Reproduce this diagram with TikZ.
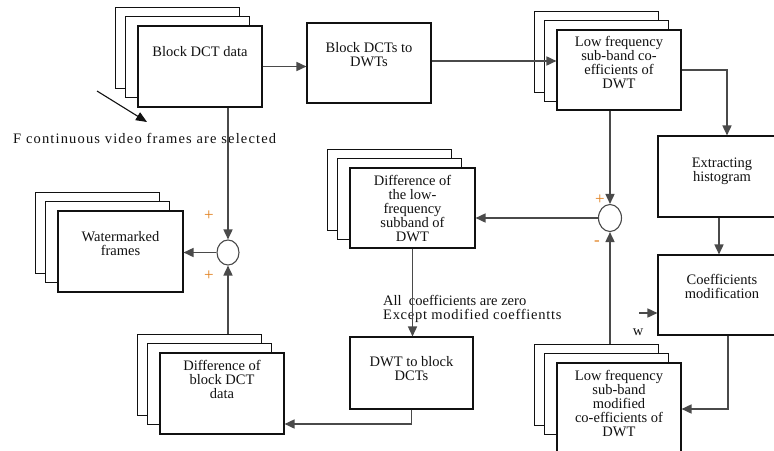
\documentclass[tikz,border=0pt]{standalone}
\usepackage{fontspec}
\setmainfont{Liberation Serif}
\usetikzlibrary{arrows.meta,positioning,shapes.geometric,backgrounds}
\definecolor{ink}{HTML}{111111}
\definecolor{wire}{HTML}{4A4A4A}
\definecolor{sign}{HTML}{E0801E}

\begin{document}
\begin{tikzpicture}[
    x=1pt, y=-1pt,
    >={Triangle[length=10pt,width=9pt]},
    font=\fontsize{14.5}{14}\selectfont, color=ink,
    box/.style={draw=ink, fill=white, line width=1.1pt, minimum width=124pt, minimum height=80pt, inner sep=0pt},
    sheet/.style={draw=ink, fill=white, line width=1.1pt},
    txt/.style={align=center, inner sep=0pt, text=ink},
    link/.style={draw=wire, line width=1.6pt},
    junction/.style={ellipse, draw=wire, line width=1.1pt, fill=white, inner sep=0pt},
    sgn/.style={text=sign, inner sep=0pt, font=\fontsize{17}{17}\selectfont}]
  % 774 x 450 canvas in pixel units, y pointing down
  \path[use as bounding box] (0,0) rectangle (774,450);
  \clip (0,0) rectangle (774,450);

  % ================= top row =================
  \node[box, minimum height=81pt] (bdct) at (200,66.5) {};
  \node[txt, below=21pt of bdct.north] (bdct-t) {Block DCT data};
  \node[box] (b2w) at (369,63) {};
  \node[txt, below=20pt of b2w.north] (b2w-t) {Block DCTs to\\DWTs};
  \node[box] (lft) at (619,70) {};
  \node[txt, below=7pt of lft.north] (lft-t) {Low frequency\\sub-band co-\\efficients of\\DWT};

  % ================= right column =================
  \node[box, minimum width=128pt, minimum height=81pt] (ext) at (722,176.5) {};
  \node[txt, below=22pt of ext.north] (ext-t) {Extracting\\histogram};
  \node[box, minimum width=128pt] (coef) at (722,295) {};
  \node[txt, below=20pt of coef.north] (coef-t) {Coefficients\\modification};
  \node[box, minimum height=92pt] (lfm) at (619,409) {};
  \node[txt, below=8pt of lfm.north] (lfm-t) {Low frequency\\sub-band\\modified\\co-efficients of\\DWT};

  % ================= middle: difference and inverse transform =================
  \node[junction, minimum width=23pt, minimum height=27pt] (sub) at (610,218) {};
  \node[box, minimum width=125pt] (dlf) at (412.5,208) {};
  \node[txt, below=8pt of dlf.north] (dlf-t) {Difference of\\the low-\\frequency\\subband of\\DWT};
  \node[box, minimum width=123pt, minimum height=72pt] (dwt) at (411.5,373) {};
  \node[txt, below=20pt of dwt.north] (dwt-t) {DWT to block\\DCTs};
  \node[txt, anchor=north west, align=left] (zero) at (383,295.5)
    {All~ coefficients are zero\\{\addfontfeature{LetterSpace=5}Except modified coeffientts}};

  % ================= left: embedding =================
  \node[junction, minimum width=22pt, minimum height=25pt] (add) at (228,252.5) {};
  \node[box, minimum width=125pt, minimum height=81pt] (wm) at (120.5,251.5) {};
  \node[txt, below=21pt of wm.north] (wm-t) {Watermarked\\frames};
  \node[box, minimum height=81pt] (dbd) at (222,393.5) {};
  \node[txt, below=8pt of dbd.north] (dbd-t) {Difference of\\block DCT\\data};

  % stacked frames behind the front boxes
  \begin{scope}[on background layer]
    \foreach \n in {bdct,lft,dlf,wm,dbd,lfm}
      \foreach \dx/\dy in {22/18,12/9}
        \draw[sheet] ([shift={(-\dx,-\dy)}]\n.north west) rectangle ++(124,81);
  \end{scope}

  % ================= signs and labels =================
  \node[sgn] (pa1) at (209,216) {+};
  \node[sgn] (pa2) at (209,276) {+};
  \node[sgn] (ps1) at (600,200) {+};
  \node[sgn] (ps2) at (597,243) {-};
  \node[txt] (wlab) at (638,332) {w};
  \node[txt, anchor=west] (fsel) at (13,138)
    {\addfontfeature{LetterSpace=8}F continuous video frames are selected};

  % ================= connectors =================
  \draw[link,->] (bdct.east) -- (bdct.east -| b2w.west);
  \draw[link,->] ([yshift=2]b2w.east) -- ([yshift=2]b2w.east -| lft.west);
  \draw[link,->] (lft.east) -| ([xshift=5]ext.north);
  \draw[link,->] ([xshift=-3]ext.south) -- ([xshift=-3]coef.north);
  \draw[link,->] ([xshift=6]coef.south) |- (lfm.east);
  \coordinate (win) at (639,313);
  \draw[link,->] (win) -- (win -| coef.west);
  \draw[link,->] (lft.south -| sub.north) -- (sub.north);
  \draw[link,->] ([yshift=18]lfm.north -| sub.south) -- (sub.south);
  \draw[link,->] (sub.west) -- (sub.west -| dlf.east);
  \draw[link,->] (dlf.south) -- (dlf.south |- dwt.north);
  \draw[link,->] (dwt.south) |- ([yshift=-30.5]dbd.east);
  \draw[link,->] ([yshift=18]dbd.north -| add.south) -- (add.south);
  \draw[link,->] (bdct.south -| add.north) -- (add.north);
  \draw[link,->] (add.west) -- (add.west -| wm.east);
  \coordinate (fa) at (97,91);
  \coordinate (fb) at (147,122);
  \draw[line width=1.1pt, -{Triangle[length=11pt,width=9pt]}] (fa) -- (fb);
\end{tikzpicture}
\end{document}
